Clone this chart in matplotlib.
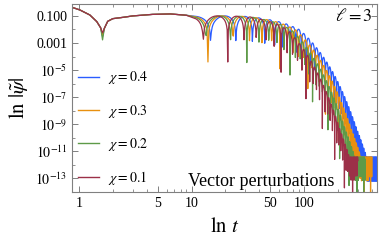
import numpy as np
import matplotlib
matplotlib.use("Agg")
import matplotlib.pyplot as plt
from matplotlib.lines import Line2D

plt.rcParams['font.family'] = ['Liberation Serif', 'DejaVu Serif']
plt.rcParams['mathtext.fontset'] = 'stix'

# series (drawn in this order, last one on top)
chi = [0.4, 0.3, 0.2, 0.1]
colors = ['#2a5cff', '#e8900f', '#5e9a48', '#9c3048']

# common early part (|psi|)
t_early = [0.87, 1.02, 1.25, 1.44, 1.56, 1.62, 1.68, 1.8, 2.0, 2.5, 3.0, 4.5, 6.5, 9.0, 11.0]
psi_early = [0.43, 0.275, 0.117, 0.038, 0.013, None, 0.012, 0.04, 0.063, 0.08, 0.1, 0.13, 0.14, 0.112, 0.068]
dip_early = [0.003, 0.0035, 0.0017, 0.0056]

# ringdown: envelope knots of the chi=0.4 curve (log10 |psi|), other curves stretched in t
env_t = [11, 20, 33, 65, 92, 182, 294, 360, 420]
env_log = [-1.0, -1.0, -1.05, -1.5, -2.03, -5.2, -9.35, -11.4, -13.6]
env_stretch = [1.0, 0.879, 0.765, 0.674]
first_dip = [14.8, 14.0, 13.4, 12.7]
half_period = [10.0, 9.4, 8.8, 8.3]
dip_depth = [4e-4, 4e-4, 4e-4, 4e-4]   # relative depth of the sampled zeros
floor_log = -11.4
t_end = [456, 403, 350, 302]

xticks = [1, 5, 10, 50, 100]
xminor = [2, 3, 4, 6, 7, 8, 9, 20, 30, 40, 60, 70, 80, 90, 200, 300, 400]
yticks = [1e-1, 1e-3, 1e-5, 1e-7, 1e-9, 1e-11, 1e-13]
ylabels = ['0.100', '0.001', r'$10^{-5}$', r'$10^{-7}$', r'$10^{-9}$', r'$10^{-11}$', r'$10^{-13}$']
yminor = [1e-2, 1e-4, 1e-6, 1e-8, 1e-10, 1e-12, 1e-14]

fig = plt.figure(figsize=(3.83, 2.47), dpi=100)
ax = fig.add_axes([72/383, 55/247, 305/383, 188/247])

handles = []
for i in range(len(chi)):
    early = [p if p is not None else dip_early[i] for p in psi_early]
    t0 = 30.0
    knots = [t if t <= t0 else t0 + (t - t0)*env_stretch[i] for t in env_t]
    t = np.arange(11.0, t_end[i], 0.25)
    logA = np.maximum(np.interp(t, knots, env_log), floor_log)
    s = np.sin(np.pi*(t - first_dip[i])/half_period[i])
    psi = 10**logA*np.sqrt(s**2 + dip_depth[i]**2)
    tt = np.concatenate([t_early[:-1], t])
    pp = np.concatenate([early[:-1], psi])
    ax.plot(tt, pp, color=colors[i], lw=0.9)
    handles.append(Line2D([], [], color=colors[i], lw=1.0, label=r'$\chi=%.1f$' % chi[i]))

ax.set_xscale('log')
ax.set_yscale('log')
ax.set_xlim(0.867, 445)
ax.set_ylim(1.26e-14, 0.76)

ax.set_xticks(xticks, [str(v) for v in xticks])
ax.set_xticks(xminor, minor=True)
ax.set_xticklabels([], minor=True)
ax.set_yticks(yticks, ylabels)
ax.set_yticks(yminor, minor=True)
ax.set_yticklabels([], minor=True)
ax.tick_params(which='both', direction='in', top=True, right=True, color='#808080',
               labelsize=10, pad=3.5)
ax.tick_params(which='major', length=4, width=0.7)
ax.tick_params(which='minor', length=2, width=0.6)
for sp in ax.spines.values():
    sp.set_color('#808080')
    sp.set_linewidth(0.8)

ax.set_xlabel(r'$\ln\,t$', fontsize=15, labelpad=6)
ax.set_ylabel(r'$\ln\,|\tilde{\psi}|$', fontsize=15, labelpad=4)

ax.legend(handles=handles, loc='lower left', bbox_to_anchor=(0.0197, 0.026),
          frameon=False, fontsize=10, borderpad=0, borderaxespad=0,
          labelspacing=1.17, handlelength=1.5, handletextpad=0.65)

ax.text(0.38, 0.0335, 'Vector perturbations', transform=ax.transAxes,
        fontsize=13, ha='left', va='baseline')
ax.text(0.987, 0.935, r'$\ell=3$', transform=ax.transAxes,
        fontsize=13, ha='right', va='center')

fig.savefig('out.png', dpi=100)
